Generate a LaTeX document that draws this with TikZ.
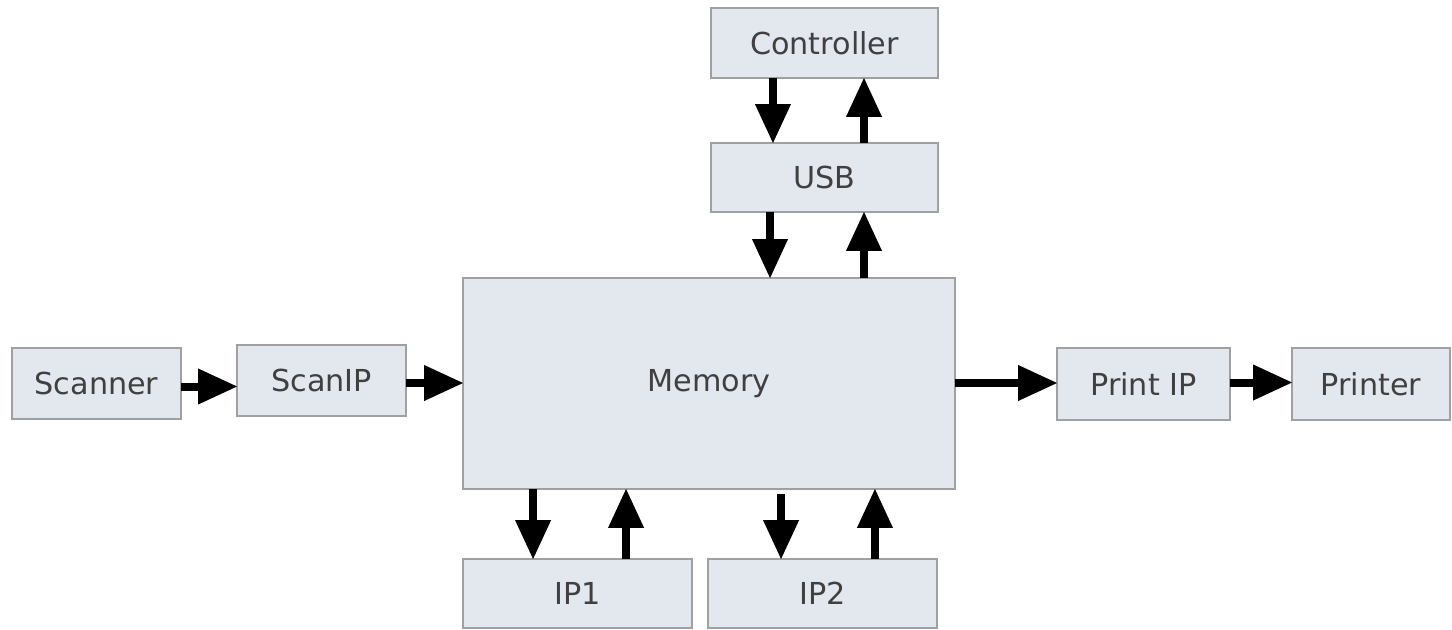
\documentclass[tikz,border=0pt]{standalone}
\usepackage{fontspec}
\setmainfont{DejaVu Sans}
\usetikzlibrary{arrows.meta,calc}
\definecolor{boxfill}{RGB}{227,231,238}
\definecolor{boxline}{RGB}{160,160,160}
\definecolor{boxtext}{RGB}{64,64,64}
\def\pxu{0.025cm}
\begin{document}
\begin{tikzpicture}[x=0.025cm,y=-0.025cm,
  blk/.style={draw=boxline,fill=boxfill,line width=0.9pt,inner sep=0pt,outer sep=0pt,
    text=boxtext,font=\fontsize{21.5}{26}\selectfont},
  flow/.style={line width=0.2cm,
    -{Triangle[length=0.97cm,width=0.9cm,line width=0pt]}}]
\useasboundingbox (0,0) rectangle (1452,630);
% blocks
\node[blk,minimum width=227*\pxu,minimum height=70*\pxu] (ctrl) at (824.5,43) {Controller};
\node[blk,minimum width=227*\pxu,minimum height=69*\pxu] (usb) at (824.5,177.5) {USB};
\node[blk,minimum width=492*\pxu,minimum height=211*\pxu] (mem) at (709,383.5) {Memory};
\node[blk,minimum width=169*\pxu,minimum height=71*\pxu] (scanner) at (96.5,383.5) {Scanner};
\node[blk,minimum width=169*\pxu,minimum height=71*\pxu] (scanip) at (321.5,380.5) {ScanIP};
\node[blk,minimum width=173*\pxu,minimum height=72*\pxu] (printip) at (1143.5,384) {Print IP};
\node[blk,minimum width=158*\pxu,minimum height=72*\pxu] (printer) at (1371,384) {Printer};
\node[blk,minimum width=229*\pxu,minimum height=69*\pxu] (ipa) at (577.5,593.5) {IP1};
\node[blk,minimum width=229*\pxu,minimum height=69*\pxu] (ipb) at (822.5,593.5) {IP2};
% controller <-> USB
\coordinate (c1) at ($(ctrl.south west)!0.273!(ctrl.south east)$);
\coordinate (c2) at ($(ctrl.south west)!0.674!(ctrl.south east)$);
\draw[flow] (c1) -- (c1 |- usb.north);
\draw[flow] (c2 |- usb.north) -- (c2);
% USB <-> memory
\coordinate (u1) at ($(usb.south west)!0.26!(usb.south east)$);
\coordinate (u2) at ($(usb.south west)!0.674!(usb.south east)$);
\draw[flow] (u1) -- (u1 |- mem.north);
\draw[flow] (u2 |- mem.north) -- (u2);
% memory <-> IP1 / IP2
\coordinate (a1) at ($(ipa.north west)!0.306!(ipa.north east)$);
\coordinate (a2) at ($(ipa.north west)!0.712!(ipa.north east)$);
\coordinate (b1) at ($(ipb.north west)!0.319!(ipb.north east)$);
\coordinate (b2) at ($(ipb.north west)!0.729!(ipb.north east)$);
\draw[flow] (a1 |- mem.south) -- (a1);
\draw[flow] (a2) -- (a2 |- mem.south);
\draw[flow] ($(b1 |- mem.south)+(0,5)$) -- (b1);
\draw[flow] (b2) -- (b2 |- mem.south);
% scan and print chain
\draw[flow] ($(scanner.east)+(0,3)$) -- ($(scanner.east -| scanip.west)+(0,3)$);
\draw[flow] ($(scanip.east)+(0,2.5)$) -- ($(scanip.east -| mem.west)+(0,2.5)$);
\draw[flow] ($(printip.west -| mem.east)+(0,-1)$) -- ($(printip.west)+(0,-1)$);
\draw[flow] ($(printip.east)+(0,-1.5)$) -- ($(printer.west)+(0,-1.5)$);
\end{tikzpicture}
\end{document}
